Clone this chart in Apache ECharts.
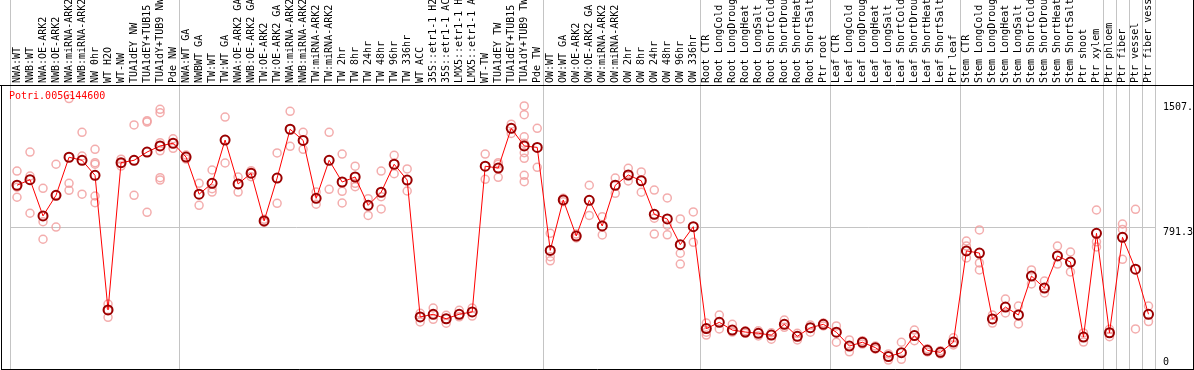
<!DOCTYPE html>
<html><head><meta charset="utf-8">
<script src="https://cdn.jsdelivr.net/npm/echarts@6.0.0/dist/echarts.min.js"></script>
<style>html,body{margin:0;padding:0;background:#fff;}#chart{width:1194px;height:370px;}</style>
</head><body><div id="chart"></div>
<script>
const geneId = 'Potri.005G144600';

const categories = [
  'NWA:WT','NWB:WT','NWA:OE-ARK2','NWB:OE-ARK2','NWA:miRNA-ARK2','NWB:miRNA-ARK2','NW 0hr','WT H2O','WT-NW',
  'TUA1dEY NW','TUA1dEY+TUB15 NW','TUA1dY+TUB9 NW','Pde NW',
  'NWA:WT GA','NWBWT GA','TW:WT','TW:WT GA','NWA:OE-ARK2 GA','NWB:OE-ARK2 GA','TW:OE-ARK2','TW:OE-ARK2 GA',
  'NWA:miRNA-ARK2','NWB:miRNA-ARK2','TW:miRNA-ARK2','TW:miRNA-ARK2','TW 2hr','TW 8hr','TW 24hr','TW 48hr','TW 96hr','TW 336hr',
  'WT ACC','35S::etr1-1 H2O','35S::etr1-1 ACC','LMX5::etr1-1 H2O','LMX5::etr1-1 ACC','WT-TW','TUA1dEY TW','TUA1dEY+TUB15 TW','TUA1dY+TUB9 TW','Pde TW',
  'OW:WT','OW:WT GA','OW:OE-ARK2','OW:OE-ARK2 GA','OW:miRNA-ARK2','OW:miRNA-ARK2','OW 2hr','OW 8hr','OW 24hr','OW 48hr','OW 96hr','OW 336hr',
  'Root CTR','Root LongCold','Root LongDrought','Root LongHeat','Root LongSalt','Root ShortCold','Root ShortDrought','Root ShortHeat','Root ShortSalt','Ptr root',
  'Leaf CTR','Leaf LongCold','Leaf LongDrought','Leaf LongHeat','Leaf LongSalt','Leaf ShortCold','Leaf ShortDrought','Leaf ShortHeat','Leaf ShortSalt','Ptr leaf',
  'Stem CTR','Stem LongCold','Stem LongDrought','Stem LongHeat','Stem LongSalt','Stem ShortCold','Stem ShortDrought','Stem ShortHeat','Stem ShortSalt','Ptr shoot',
  'Ptr xylem','Ptr phloem','Ptr fiber','Ptr vessel','Ptr fiber vessel'
];

const meanValues = [
  1024,1055,853,968,1180,1163,1079,329,1150,1163,1209,1243,1258,
  1181,974,1035,1276,1031,1091,825,1064,1336,1274,951,1163,1042,1070,912,985,1141,1053,
  290,305,280,305,318,1130,1120,1341,1243,1235,
  661,942,741,940,797,1024,1081,1049,862,836,693,793,
  225,260,217,206,199,189,249,182,230,249,
  205,128,149,119,69,91,186,104,93,150,
  658,646,279,345,301,518,451,630,596,178,
  756,202,734,556,305
];

const replicates = [
  [1103,1013,957],[1209,1075,868],[1007,821,723],[1141,970,791],[1507,1035,996],[1319,1187,974],
  [1224,1150,1141,964,927],[362,329,288],[1169,1146,1131],[1360,968],[1384,1376,873],
  [1447,1428,1261,1216,1066,1053],[1283,1230],
  [1192,1170],[1035,912],[1109,1005,986],[1404,1148],[1070,986],[1105,1072],[834,817],[1204,923],
  [1436,1241],[1319,1224],[986,918],[1319,1001],[1198,990,925],[1130,1035,1016],[949,856],[1103,960,892],[1191,1088],[1115,992],
  [310,262],[340,277],[299,255],[327,291],[340,295],[1198,1057],[1150,1141,1068],[1364,1313],
  [1466,1417,1294,1258,1205,1174,1079,1044],[1341,1124],
  [756,626,603],[951,932],[752,730],[1024,856],[849,747],[1064,979],[1118,1048],[1098,985],[997,840,752],[953,801,748],[836,645,585],[875,706],
  [256,205,189],[301,223],[249,206],[213,199],[213,184],[202,166],[273,232],[199,162],[245,205],[256,240],
  [240,149],[162,96],[158,139],[128,110],[84,50],[149,54],[217,158],[113,95],[102,84],[174,134],
  [713,685,619],[775,591,552],[301,256],[390,312],[351,251],[552,474],[490,424],[685,585],[652,541],[201,150],
  [886,709,680],[221,180],[808,778,611],[890,223],[351,264]
];

const yTickValues = [0, 791.3, 1507];
const yMax = 1582.6;
const yMid = 791.3;
// category boundaries (left edge index) where grey separators are drawn
const separatorBoundaries = [0, 13, 41, 53, 63, 73, 84, 85, 86, 87];

const FONT = 'DejaVu Sans Mono';
const repData = [];
replicates.forEach((reps, i) => reps.forEach(v => repData.push([i, v])));

const sepFn = (idx) => separatorBoundaries.indexOf(idx) >= 0;
const GREY = '#c4c4c4';

const chart = echarts.init(document.getElementById('chart'), null, {renderer: 'canvas'});
chart.setOption({
  animation: false,
  backgroundColor: '#ffffff',
  title: {
    text: geneId, left: 9, top: 91, padding: 0,
    textStyle: {color: '#ff0000', fontSize: 10, fontWeight: 'normal', fontFamily: FONT}
  },
  grid: [
    {left: 10.5, top: 85, width: 1144.5, height: 284, outerBoundsMode: 'none', containLabel: false},
    {left: 10.5, top: 0, width: 1144.5, height: 85, outerBoundsMode: 'none', containLabel: false}
  ],
  xAxis: [
    {
      gridIndex: 0, type: 'category', data: categories, position: 'top', boundaryGap: true,
      axisLine: {show: false}, axisTick: {show: false},
      axisLabel: {interval: 0, rotate: 90, margin: 2, fontSize: 10, fontFamily: FONT, color: '#000'},
      splitLine: {show: true, interval: sepFn, lineStyle: {color: GREY, width: 1}}
    },
    {
      gridIndex: 1, type: 'category', data: categories, boundaryGap: true,
      axisLine: {show: false}, axisTick: {show: false}, axisLabel: {show: false},
      splitLine: {show: true, interval: sepFn, lineStyle: {color: GREY, width: 1}}
    }
  ],
  yAxis: [
    {
      gridIndex: 0, type: 'value', position: 'right', min: 0, max: yMax, interval: yMid,
      axisLine: {show: false}, axisTick: {show: false},
      splitLine: {show: true, lineStyle: {color: GREY, width: 1}},
      axisLabel: {
        customValues: yTickValues, margin: 8, fontSize: 10, fontFamily: FONT, color: '#000',
        formatter: (v) => {
          if (v >= 1500) return '{t| }\n{t|' + v + '.}';
          if (v > 0) return '{m| }\n{m|' + v + '}';
          return '{b|' + v + '}\n{b| }';
        },
        rich: {
          t: {lineHeight: 18, fontSize: 10, fontFamily: FONT, color: '#000'},
          m: {lineHeight: 11, fontSize: 10, fontFamily: FONT, color: '#000'},
          b: {lineHeight: 14, fontSize: 10, fontFamily: FONT, color: '#000'}
        }
      }
    },
    {gridIndex: 1, type: 'value', show: false}
  ],
  series: [
    {
      type: 'scatter', xAxisIndex: 0, yAxisIndex: 0, data: repData, silent: true,
      symbol: 'circle', symbolSize: 8,
      itemStyle: {color: 'rgba(0,0,0,0)', borderColor: '#f09898', borderWidth: 1.5}, z: 2
    },
    {
      type: 'line', xAxisIndex: 0, yAxisIndex: 0, data: meanValues, silent: true,
      symbol: 'circle', symbolSize: 9, showAllSymbol: true,
      lineStyle: {color: '#ff0000', width: 1},
      itemStyle: {color: 'rgba(0,0,0,0)', borderColor: '#9a0000', borderWidth: 2}, z: 3
    }
  ],
  graphic: [
    {type: 'line', z: 100, shape: {x1: 0, y1: 85.5, x2: 1194, y2: 85.5}, style: {stroke: '#000', lineWidth: 1}},
    {type: 'line', z: 100, shape: {x1: 1.5, y1: 85, x2: 1.5, y2: 370}, style: {stroke: '#000', lineWidth: 1}},
    {type: 'line', z: 100, shape: {x1: 1193.5, y1: 0, x2: 1193.5, y2: 370}, style: {stroke: '#000', lineWidth: 1}},
    {type: 'line', z: 100, shape: {x1: 1, y1: 369.5, x2: 1194, y2: 369.5}, style: {stroke: '#000', lineWidth: 1}}
  ]
});
</script></body></html>
